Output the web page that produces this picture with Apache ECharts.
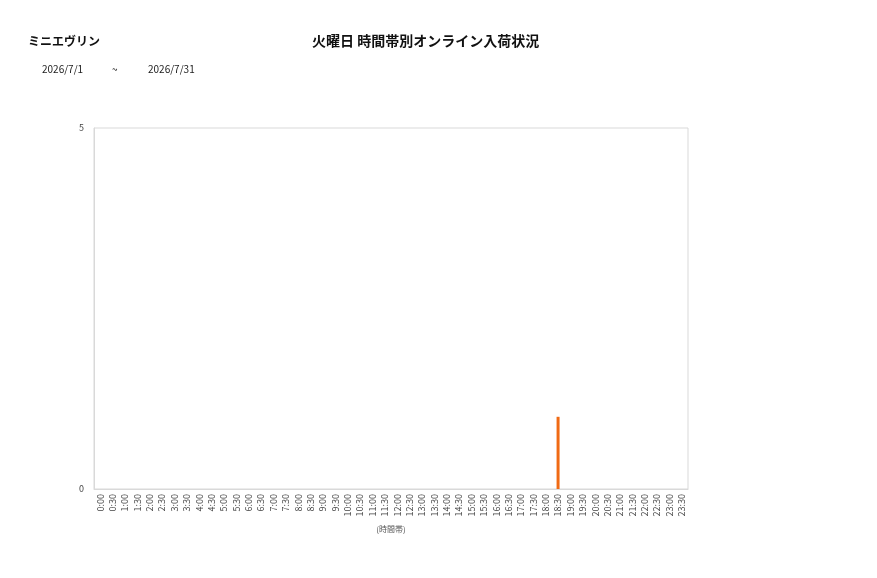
<!DOCTYPE html>
<html>
<head>
<meta charset="utf-8">
<title>ECharts</title>
<script src="https://cdn.jsdelivr.net/npm/echarts@6/dist/echarts.min.js"></script>
<style>
html,body{margin:0;padding:0;background:#fff;}
#main{width:877px;height:578px;}
</style>
</head>
<body>
<div id="main"></div>
<script type="text/javascript">
var shopName = 'ミニエヴリン';
var chartTitle = '火曜日 時間帯別オンライン入荷状況';
var dateFrom = '2026/7/1';
var dateTo = '2026/7/31';
var timeSlots = ['0:00','0:30','1:00','1:30','2:00','2:30','3:00','3:30','4:00','4:30','5:00','5:30',
    '6:00','6:30','7:00','7:30','8:00','8:30','9:00','9:30','10:00','10:30','11:00','11:30',
    '12:00','12:30','13:00','13:30','14:00','14:30','15:00','15:30','16:00','16:30','17:00','17:30',
    '18:00','18:30','19:00','19:30','20:00','20:30','21:00','21:30','22:00','22:30','23:00','23:30'];
var arrivals = [0,0,0,0,0,0,0,0,0,0,0,0,
    0,0,0,0,0,0,0,0,0,0,0,0,
    0,0,0,0,0,0,0,0,0,0,0,0,
    0,1,0,0,0,0,0,0,0,0,0,0];
var yTicks = [0, 5];

var font = '"Noto Sans CJK JP", "Noto Sans", sans-serif';
var myChart = echarts.init(document.getElementById('main'));
var option = {
    animation: false,
    textStyle: {fontFamily: font},
    graphic: [
        {type: 'text', left: 28, top: 35, style: {text: shopName, font: 'bold 12px ' + font, fill: '#111'}},
        {type: 'text', left: 312, top: 34, style: {text: chartTitle, font: 'bold 14px ' + font, fill: '#111'}},
        {type: 'text', left: 42, top: 64, style: {text: dateFrom, font: '10px ' + font, fill: '#222'}},
        {type: 'text', left: 112, top: 64, style: {text: '~', font: '10px ' + font, fill: '#222'}},
        {type: 'text', left: 148, top: 64, style: {text: dateTo, font: '10px ' + font, fill: '#222'}}
    ],
    grid: {
        left: 94, right: 189, top: 128, bottom: 89,
        show: true, borderColor: '#d9d9d9', borderWidth: 1, backgroundColor: '#fff'
    },
    xAxis: {
        type: 'category',
        data: timeSlots,
        boundaryGap: true,
        name: '(時間帯)',
        nameLocation: 'middle',
        nameGap: 36,
        nameTextStyle: {fontSize: 8, color: '#555'},
        axisLine: {show: true, lineStyle: {color: '#d9d9d9'}},
        axisTick: {show: false},
        axisLabel: {interval: 0, rotate: 90, fontSize: 9, color: '#444', margin: 5}
    },
    yAxis: {
        type: 'value',
        min: yTicks[0],
        max: yTicks[1],
        interval: yTicks[1] - yTicks[0],
        axisLine: {show: true, lineStyle: {color: '#d9d9d9'}},
        axisTick: {show: false},
        splitLine: {show: false},
        axisLabel: {fontSize: 9, color: '#444', margin: 10}
    },
    series: [{
        type: 'bar',
        data: arrivals,
        barWidth: 3,
        itemStyle: {color: '#F06A14'}
    }]
};
myChart.setOption(option);
</script>
</body>
</html>
